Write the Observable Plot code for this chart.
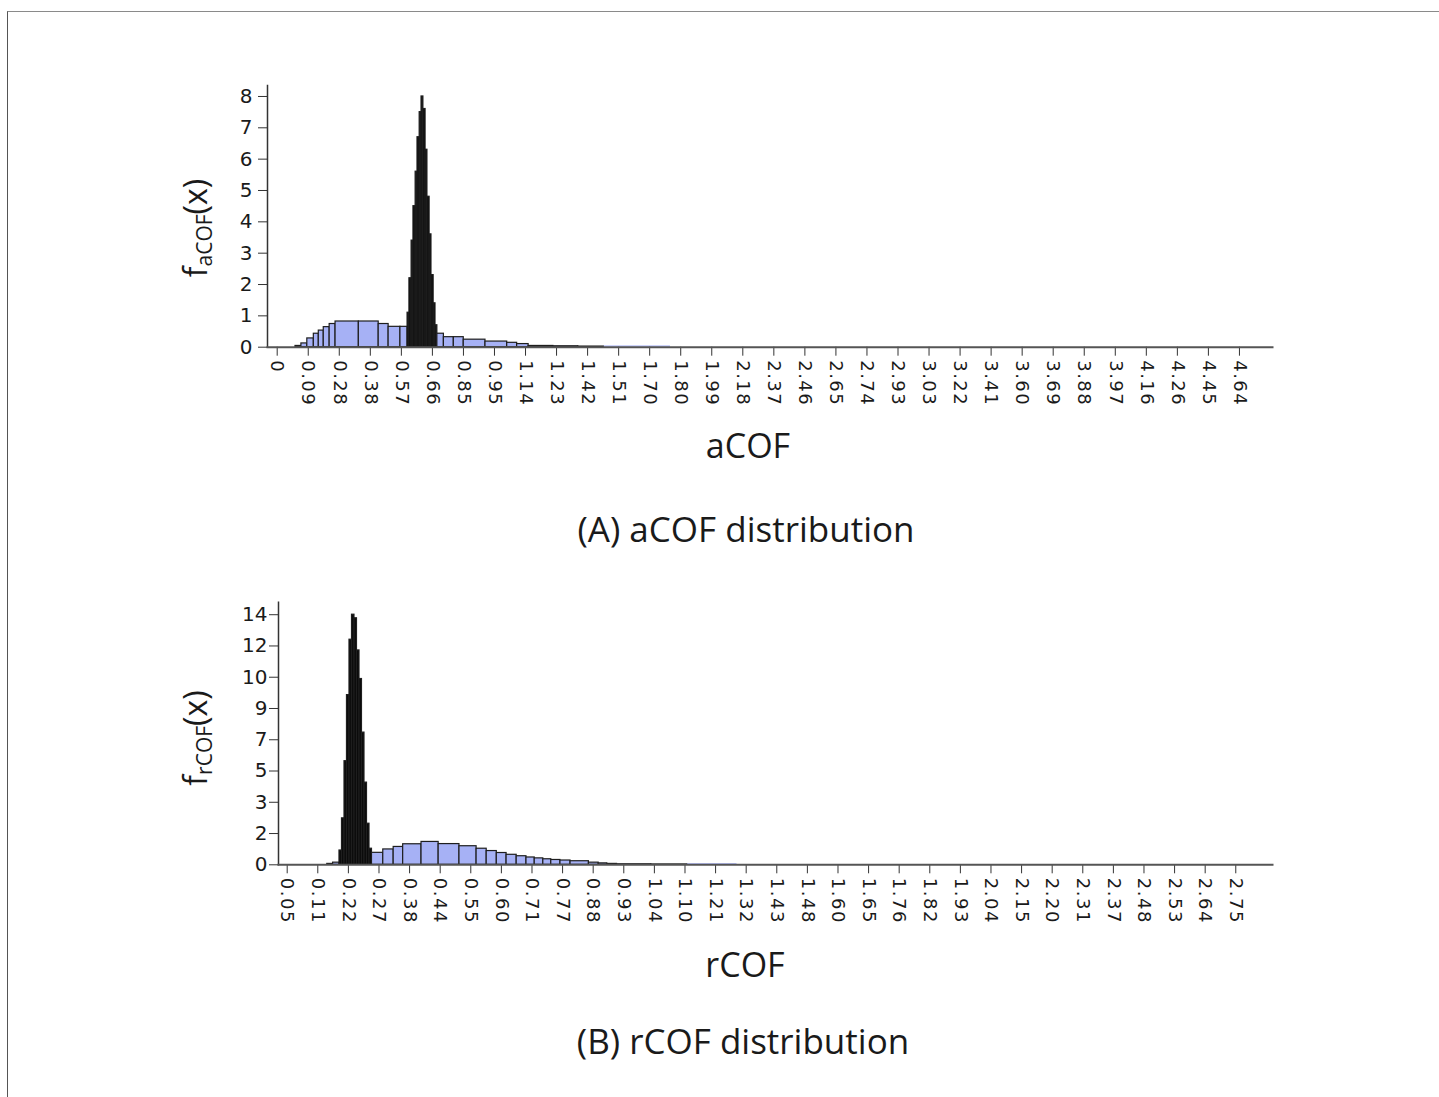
<!DOCTYPE html>
<html><head><meta charset="utf-8">
<script src="https://cdn.jsdelivr.net/npm/d3@7"></script>
<script src="https://cdn.jsdelivr.net/npm/@observablehq/plot@0.6"></script>
<style>
body{margin:0;background:#fff;}
#page{position:relative;width:1439px;height:1097px;overflow:hidden;background:#fff;}
#border{position:absolute;left:7px;top:11px;width:1450px;height:1100px;border-top:1.5px solid #8a8a8a;border-left:1.5px solid #555;}
.plot{position:absolute;left:0;}
.t{position:absolute;font-family:"Open Sans",sans-serif;color:#1a1a1a;white-space:nowrap;transform:translateX(-50%);line-height:1;}
.ylab{position:absolute;font-family:"Open Sans",sans-serif;font-size:32px;color:#1a1a1a;white-space:nowrap;line-height:1;transform:translate(-50%,-50%) rotate(-90deg);}
.ylab sub{font-size:21px;vertical-align:-5px;}
</style>
</head><body>
<div id="page">
  <div id="border"></div>
  <div id="plotA" class="plot" style="top:0px"></div>
  <div class="ylab" style="left:197px;top:228px">f<sub>aCOF</sub>(x)</div>
  <div class="t" style="left:748px;top:428px;font-size:34px">aCOF</div>
  <div class="t" style="left:746px;top:511px;font-size:35px">(A) aCOF distribution</div>
  <div id="plotB" class="plot" style="top:520px"></div>
  <div class="ylab" style="left:197px;top:738px">f<sub>rCOF</sub>(x)</div>
  <div class="t" style="left:745px;top:947px;font-size:34px">rCOF</div>
  <div class="t" style="left:743px;top:1023px;font-size:35px">(B) rCOF distribution</div>
</div>
<script>
// ---- Data (x positions are in tick-slot units: tick k sits at k) ----
const xLabelsA = ["0","0.09","0.28","0.38","0.57","0.66","0.85","0.95","1.14","1.23","1.42","1.51","1.70","1.80","1.99","2.18","2.37","2.46","2.65","2.74","2.93","3.03","3.22","3.41","3.60","3.69","3.88","3.97","4.16","4.26","4.45","4.64"];
const xLabelsB = ["0.05","0.11","0.22","0.27","0.38","0.44","0.55","0.60","0.71","0.77","0.88","0.93","1.04","1.10","1.21","1.32","1.43","1.48","1.60","1.65","1.76","1.82","1.93","2.04","2.15","2.20","2.31","2.37","2.48","2.53","2.64","2.75"];
const yTicksA = [0,1,2,3,4,5,6,7,8];
const yLabelsA = ["0","1","2","3","4","5","6","7","8"];
const yTicksB = [0,1.75,3.5,5.25,7,8.75,10.5,12.25,14];
const yLabelsB = ["0","2","3","5","7","9","10","12","14"];

// aCOF histogram: bin edges and bar heights
const edgesA = [0.59,0.78,0.97,1.18,1.34,1.50,1.69,1.88,2.63,3.27,3.59,3.97,
  4.20,4.26,4.33,4.39,4.46,4.52,4.59,4.65,4.71,4.78,4.84,4.91,4.97,5.04,5.10,5.16,
  5.37,5.69,6.01,6.71,7.41,7.73,8.10,8.90,9.70,10.52];
const heightsA = [0.04,0.12,0.28,0.43,0.53,0.64,0.74,0.82,0.82,0.74,0.65,0.65,
  1.1,2.2,3.4,4.5,5.6,6.7,7.5,8.0,7.6,6.3,4.8,3.6,2.3,1.4,0.7,
  0.43,0.32,0.32,0.24,0.18,0.14,0.10,0.04,0.03,0.02];
const tailEdgesA = [10.52,12.67];
const tailHeightsA = [0.04];

// rCOF histogram
const edgesB = [1.31,1.50,1.709,
  1.791,1.873,1.954,2.036,2.118,2.199,2.281,2.363,2.444,2.526,2.608,2.690,2.771,
  3.14,3.48,3.79,4.39,4.95,5.63,6.19,6.52,6.85,7.17,7.50,7.82,8.09,8.37,8.63,8.93,9.26,9.86,10.18,10.46,10.78,11.9,13.07];
const heightsB = [0.05,0.12,
  0.8,2.6,5.8,9.5,12.6,14.0,13.8,12.0,10.4,7.4,4.6,2.3,0.9,
  0.67,0.86,1.0,1.15,1.28,1.16,1.04,0.9,0.77,0.66,0.56,0.48,0.41,0.36,0.31,0.27,0.24,0.2,0.12,0.08,0.05,0.03,0.02];
const tailEdgesB = [13.07,14.7];
const tailHeightsB = [0.06];

const blue = "#a6b1f5";
const edge = "#1e1e1e";
const bins = (edges, heights) => heights.map((h, i) => ({x0: edges[i], x1: edges[i + 1], h}));
// very narrow bins render as solid dark (their outlines fill them), like the reference
const barFill = d => (d.x1 - d.x0 < 0.1 ? "#0a0a0a" : blue);

function chart({xLabels, yTicks, yLabels, edges, heights, tailEdges, tailHeights, ml, mt, mb, xDomain, yDomain, tickPad}) {
  const xTicks = xLabels.map((_, i) => i);
  const ylab = new Map(yTicks.map((t, i) => [t, yLabels[i]]));
  const svg = Plot.plot({
    width: 1439, height: 420,
    marginLeft: ml, marginRight: 167, marginTop: mt, marginBottom: mb,
    style: {fontFamily: "DejaVu Sans, sans-serif", color: "#1a1a1a", background: "transparent"},
    x: {domain: xDomain},
    y: {domain: yDomain},
    marks: [
      Plot.rect(bins(tailEdges, tailHeights), {x1: "x0", x2: "x1", y1: 0, y2: "h", fill: blue}),
      Plot.rect(bins(edges, heights), {x1: "x0", x2: "x1", y1: 0, y2: "h", fill: barFill, stroke: edge, strokeWidth: 1.2}),
      Plot.axisY({ticks: yTicks, tickFormat: d => ylab.get(d), tickSize: 9, tickPadding: tickPad, fontSize: 20, label: null, stroke: "#333"}),
      Plot.axisX({ticks: xTicks, tickFormat: i => xLabels[i], tickSize: 9, tickPadding: 4, tickRotate: 90, fontSize: 18, label: null, stroke: "#333"}),
      Plot.frame({anchor: "left", stroke: "#333", strokeWidth: 1.5}),
      Plot.frame({anchor: "bottom", stroke: "#555", strokeWidth: 2})
    ]
  });
  d3.select(svg).selectAll('g[aria-label="x-axis tick label"] text').attr("letter-spacing", 1.5);
  return svg;
}

document.getElementById("plotA").append(chart({
  xLabels: xLabelsA, yTicks: yTicksA, yLabels: yLabelsA, edges: edgesA, heights: heightsA,
  tailEdges: tailEdgesA, tailHeights: tailHeightsA,
  ml: 267, mt: 85, mb: 73.3, xDomain: [-0.3125, 32.065], yDomain: [0, 8.35], tickPad: 6
}));
document.getElementById("plotB").append(chart({
  xLabels: xLabelsB, yTicks: yTicksB, yLabels: yLabelsB, edges: edgesB, heights: heightsB,
  tailEdges: tailEdgesB, tailHeights: tailHeightsB,
  ml: 278, mt: 81.7, mb: 75.7, xDomain: [-0.284, 32.2], yDomain: [0, 14.7], tickPad: 2
}));
</script>
</body></html>
